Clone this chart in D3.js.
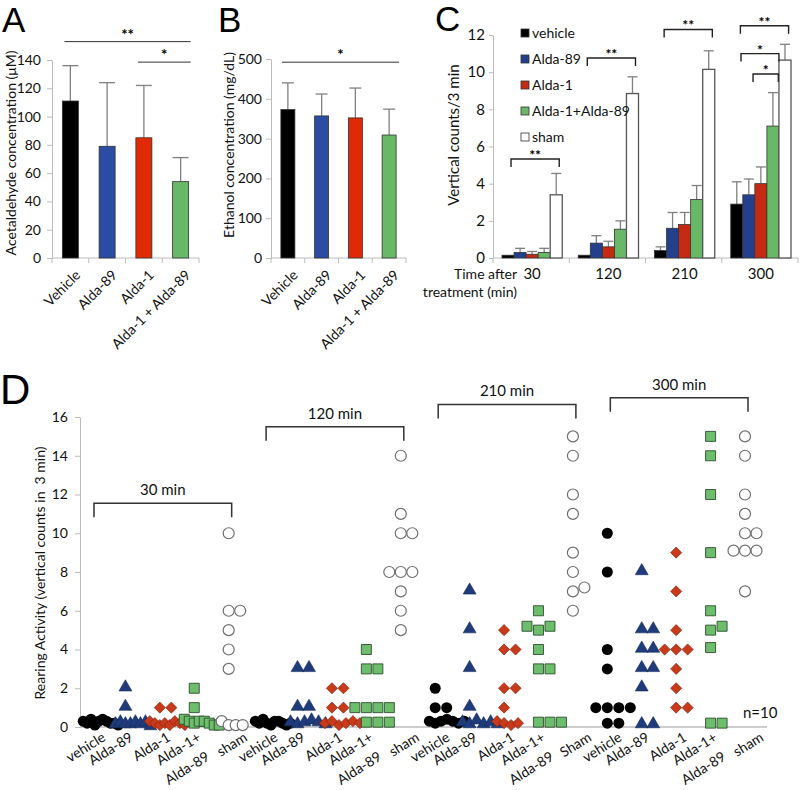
<!DOCTYPE html>
<html><head><meta charset="utf-8">
<script src="https://cdn.jsdelivr.net/npm/d3@7"></script>
<style>body{margin:0;background:#fff}</style>
</head><body>
<svg id="c" width="800" height="790"></svg>
<script>
// ---------------- DATA ----------------
const catsAB = ["Vehicle", "Alda-89", "Alda-1", "Alda-1 + Alda-89"];
const colorsAB = ["#000000", "#2a4ca2", "#e02a06", "#68b868"];
const acetMean = [111, 79, 85, 54];
const acetSD = [25, 45, 37, 17];
const ethMean = [373, 357, 352, 309];
const ethSD = [67, 55, 75, 65];
const sigA = [{a: 0, b: 3, level: 153, label: "**"}, {a: 2, b: 3, level: 138.5, label: "*"}];
const sigB = [{a: 0, b: 3, level: 492, label: "*"}];

const timesC = ["30", "120", "210", "300"];
const seriesC = ["vehicle", "Alda-89", "Alda-1", "Alda-1+Alda-89", "sham"];
const colorsC = ["#000000", "#22408c", "#c52b12", "#68b868", "#ffffff"];
const vertVehicle = [0.15, 0.15, 0.4, 2.9];
const vertAlda89 = [0.3, 0.8, 1.6, 3.4];
const vertAlda1 = [0.2, 0.6, 1.8, 4.0];
const vertCombo = [0.3, 1.55, 3.15, 7.1];
const vertSham = [3.4, 8.85, 10.15, 10.65];
const sdVehicle = [0, 0, 0.2, 1.2];
const sdAlda89 = [0.22, 0.4, 0.85, 0.85];
const sdAlda1 = [0.15, 0.3, 0.65, 0.9];
const sdCombo = [0.22, 0.45, 0.75, 1.8];
const sdSham = [1.15, 0.9, 1.0, 0.85];
// brackets: time index, from bar, to bar (bar index), level, label
const sigC = [
  {t: 0, a: 0.25, b: 4.25, level: 5.33, label: "**"},
  {t: 1, a: 0.25, b: 4.25, level: 10.76, label: "**"},
  {t: 2, a: 0.3, b: 4.3, level: 12.3, label: "**"},
  {t: 3, a: 0.3, b: 4.3, level: 12.5, label: "**"},
  {t: 3, a: 0.35, b: 3.5, level: 11.0, label: "*"},
  {t: 3, a: 1.35, b: 3.45, level: 9.9, label: "*"}
];

const groupsD = ["vehicle", "Alda-89", "Alda-1", "Alda-1+Alda-89", "sham"];
const labelsD = ["vehicle", "Alda-89", "Alda-1", "Alda-1+|Alda-89", "sham"];
const shamLabelD = ["sham", "sham", "Sham", "sham"];
const timesD = ["30 min", "120 min", "210 min", "300 min"];
const bracketLevelD = [11.55, 15.5, 16.65, 17.0];
// rearing counts per animal, rows = groupsD
const rear30 = [
  [0.3, 0.2, 0.4, 0.1, 0.3, 0.4, 0.3, 0.2, 0.2, 0.1],
  [2, 1, 0.1, 0.2, 0.1, 0.1, 0.2, 0.1, 0.2, 0],
  [1, 1, 0.3, 0.2, 0.1, 0.2, 0.1, 0.3, 0.2, 0.1],
  [2, 1, 0.4, 0.3, 0.2, 0.3, 0.3, 0.2, 0.1, 0.1],
  [10, 6, 6, 5, 4, 3, 0.3, 0.1, 0.1, 0.1]
];
const rear120 = [
  [0.3, 0.2, 0.4, 0.2, 0.1, 0.3, 0.3, 0.2, 0.1, 0.2],
  [3, 3, 1, 1, 0.2, 0.1, 0.2, 0.3, 0.2, 0.1],
  [2, 2, 1, 1, 0.2, 0.3, 0.1, 0.2, 0.3, 0.2],
  [4, 3, 3, 1, 1, 1, 1, 0.25, 0.25, 0.25],
  [14, 11, 10, 10, 8, 8, 8, 7, 6, 5]
];
const rear210 = [
  [2, 1, 1, 0.3, 0.2, 0.3, 0.4, 0.3, 0.2, 0.3],
  [7, 5, 3, 1, 0.2, 0.1, 0.3, 0.1, 0.2, 0.1],
  [5, 4, 4, 2, 2, 1, 0.3, 0.2, 0.1, 0.2],
  [5, 5.2, 5.2, 6, 4, 3, 3, 0.25, 0.25, 0.25],
  [15, 14, 12, 11, 9, 8, 7, 7.2, 6]
];
const rear300 = [
  [10, 8, 4, 3, 1, 1, 1, 1, 0.2, 0.2],
  [8, 5, 5, 4, 4, 3, 3, 2, 0.1, 0.1],
  [9, 7, 5, 4, 4, 4, 3, 2, 1, 1],
  [15, 14, 12, 9, 6, 5, 5.2, 4.1, 0.2, 0.2],
  [15, 14, 12, 11, 10, 10, 9.1, 9.1, 9.1, 7]
];
const rearAll = [rear30, rear120, rear210, rear300];

// ---------------- DRAWING ----------------
const svg = d3.select("#c");
const FONT = "Lato, 'Open Sans', sans-serif";
const TFONT = "'Liberation Sans', Arial, sans-serif";
const AXIS = "#bcbcbc";
const ERR = "#808080";

function title(t, x, y, size) {
  svg.append("text").attr("x", x).attr("y", y).text(t)
    .attr("font-family", TFONT).attr("font-size", size).attr("fill", "#000");
}
function yLabel(t, x, y, size) {
  svg.append("text").attr("transform", `translate(${x},${y}) rotate(-90)`)
    .attr("text-anchor", "middle").attr("font-family", FONT).attr("font-size", size)
    .attr("fill", "#111").text(t);
}
function styleAxis(g, size) {
  g.select(".domain").attr("stroke", AXIS);
  g.selectAll(".tick line").attr("stroke", AXIS);
  g.selectAll(".tick text").attr("font-family", FONT).attr("font-size", size).attr("fill", "#111");
}

function barPanel(o) {
  const g = svg.append("g");
  const x = d3.scaleBand().domain(o.cats).range([o.left, o.right]);
  const y = d3.scaleLinear().domain([0, o.max]).range([o.bottom, o.top]);
  const ya = d3.axisLeft(y).tickValues(d3.range(0, o.max + 1e-9, o.step))
    .tickSize(5).tickSizeOuter(0).tickPadding(o.pad);
  const yg = g.append("g").attr("transform", `translate(${o.left},0)`).call(ya);
  styleAxis(yg, 14);
  g.append("line").attr("x1", o.left).attr("x2", o.right).attr("y1", o.bottom).attr("y2", o.bottom)
    .attr("stroke", AXIS);
  const bounds = o.cats.map(c => x(c)).concat([o.right]);
  g.selectAll(".xt").data(bounds).join("line")
    .attr("x1", d => d).attr("x2", d => d).attr("y1", o.bottom).attr("y2", o.bottom + 5)
    .attr("stroke", AXIS);
  const cx = c => x(c) + x.bandwidth() / 2;
  // error bars
  o.cats.forEach((c, i) => {
    const top = y(o.means[i] + o.sds[i]);
    g.append("line").attr("x1", cx(c)).attr("x2", cx(c)).attr("y1", y(o.means[i])).attr("y2", top)
      .attr("stroke", ERR).attr("stroke-width", 1.3);
    g.append("line").attr("x1", cx(c) - o.cap).attr("x2", cx(c) + o.cap).attr("y1", top).attr("y2", top)
      .attr("stroke", ERR).attr("stroke-width", 1.3);
  });
  g.selectAll(".bar").data(o.cats).join("rect")
    .attr("x", c => cx(c) - o.bw / 2).attr("width", o.bw)
    .attr("y", (c, i) => y(o.means[i])).attr("height", (c, i) => o.bottom - y(o.means[i]))
    .attr("fill", (c, i) => o.colors[i]).attr("stroke", "#333").attr("stroke-width", 0.8);
  // x labels
  g.selectAll(".xl").data(o.cats).join("text")
    .attr("transform", c => `translate(${cx(c) + 4},${o.bottom + 11}) rotate(-45)`)
    .attr("text-anchor", "end").attr("dy", "0.7em")
    .attr("font-family", FONT).attr("font-size", 14).attr("fill", "#111").text(c => c);
  // significance
  o.sig.forEach(s => {
    const yy = y(s.level);
    g.append("line").attr("x1", cx(o.cats[s.a]) - 6).attr("x2", cx(o.cats[s.b]) + 10)
      .attr("y1", yy).attr("y2", yy).attr("stroke", "#333").attr("stroke-width", 1);
    g.append("text").attr("x", (cx(o.cats[s.a]) + cx(o.cats[s.b])) / 2 + 2).attr("y", yy - 2)
      .attr("text-anchor", "middle").attr("font-family", FONT).attr("font-size", 15)
      .attr("font-weight", "bold").text(s.label);
  });
}

// Panel A
title("A", 2, 32, 35);
barPanel({cats: catsAB, left: 52, right: 199, bottom: 258, top: 60, max: 140, step: 20, pad: 6,
  means: acetMean, sds: acetSD, colors: colorsAB, bw: 16, cap: 8, sig: sigA});
yLabel("Acetaldehyde concentration (\u03bcM)", 16, 153, 14);

// Panel B
title("B", 218, 32, 35);
barPanel({cats: catsAB, left: 271, right: 406, bottom: 258, top: 59, max: 500, step: 100, pad: 4,
  means: ethMean, sds: ethSD, colors: colorsAB, bw: 14, cap: 6, sig: sigB});
yLabel("Ethanol concentration (mg/dL)", 234, 145, 14);

// Panel C
title("C", 435, 31, 35);
(function () {
  const g = svg.append("g");
  const left = 493, right = 798, bottom = 258, top = 35;
  const means = [vertVehicle, vertAlda89, vertAlda1, vertCombo, vertSham];
  const sds = [sdVehicle, sdAlda89, sdAlda1, sdCombo, sdSham];
  const x0 = d3.scaleBand().domain(timesC).range([left, right]);
  const x1 = d3.scaleBand().domain(seriesC).range([9, x0.bandwidth() - 7]);
  const y = d3.scaleLinear().domain([0, 12]).range([bottom, top]);
  const yg = g.append("g").attr("transform", `translate(${left},0)`)
    .call(d3.axisLeft(y).tickValues(d3.range(0, 13, 2)).tickSize(4).tickSizeOuter(0).tickPadding(4));
  styleAxis(yg, 15);
  g.append("line").attr("x1", left).attr("x2", right).attr("y1", bottom).attr("y2", bottom).attr("stroke", AXIS);
  const bounds = timesC.map(t => x0(t)).concat([right]);
  g.selectAll(".xt").data(bounds).join("line")
    .attr("x1", d => d).attr("x2", d => d).attr("y1", bottom).attr("y2", bottom + 5).attr("stroke", AXIS);
  const bx = (t, s) => x0(t) + x1(s);
  const bw = x1.bandwidth();
  seriesC.forEach((s, si) => {
    timesC.forEach((t, ti) => {
      const m = means[si][ti], sd = sds[si][ti];
      const cx = bx(t, s) + bw / 2;
      if (sd > 0) {
        g.append("line").attr("x1", cx).attr("x2", cx).attr("y1", y(m)).attr("y2", y(m + sd))
          .attr("stroke", ERR).attr("stroke-width", 1.3);
        g.append("line").attr("x1", cx - 5).attr("x2", cx + 5).attr("y1", y(m + sd)).attr("y2", y(m + sd))
          .attr("stroke", ERR).attr("stroke-width", 1.3);
      }
      g.append("rect").attr("x", bx(t, s)).attr("width", bw).attr("y", y(m)).attr("height", bottom - y(m))
        .attr("fill", colorsC[si]).attr("stroke", si === 4 ? "#555" : "#333")
        .attr("stroke-width", si === 4 ? 1.3 : 0.8);
    });
  });
  // x category labels
  g.selectAll(".xl").data(timesC).join("text")
    .attr("x", t => x0(t) + 9 + (x0.bandwidth() - 16) / 2).attr("y", 279)
    .attr("text-anchor", "middle").attr("font-family", FONT).attr("font-size", 15).attr("fill", "#111")
    .text(t => t);
  g.append("text").attr("x", 517).attr("y", 279).attr("text-anchor", "end")
    .attr("font-family", FONT).attr("font-size", 14).attr("fill", "#111").text("Time after");
  g.append("text").attr("x", 517).attr("y", 297).attr("text-anchor", "end")
    .attr("font-family", FONT).attr("font-size", 14).attr("fill", "#111").text("treatment (min)");
  // significance brackets
  const pos = (t, b) => x0(timesC[t]) + x1.range()[0] + b * bw + bw / 2;
  sigC.forEach(s => {
    const xa = pos(s.t, s.a), xb = pos(s.t, s.b), yy = y(s.level);
    g.append("path").attr("d", `M${xa},${yy + 8}V${yy}H${xb}V${yy + 8}`)
      .attr("fill", "none").attr("stroke", "#222").attr("stroke-width", 1.4);
    g.append("text").attr("x", (xa + xb) / 2).attr("y", yy + 1).attr("text-anchor", "middle")
      .attr("font-family", FONT).attr("font-size", 14).attr("font-weight", "bold").text(s.label);
  });
  // legend
  const lg = g.append("g");
  seriesC.forEach((s, i) => {
    const yy = 33 + i * 26;
    lg.append("rect").attr("x", 521).attr("y", yy - 4).attr("width", 8).attr("height", 8)
      .attr("fill", colorsC[i]).attr("stroke", "#333").attr("stroke-width", 0.8);
    lg.append("text").attr("x", 532).attr("y", yy + 5).attr("font-family", FONT).attr("font-size", 14)
      .attr("fill", "#111").text(s);
  });
  yLabel("Vertical counts/3 min", 459, 135, 15);
})();

// Panel D
title("D", 0, 404, 42);
(function () {
  const g = svg.append("g");
  const left = 80, right = 767, bottom = 727, top = 417;
  const cols = d3.range(timesD.length * groupsD.length);
  const x = d3.scalePoint().domain(cols).range([91, 745]);
  const y = d3.scaleLinear().domain([0, 16]).range([bottom, top]);
  const yg = g.append("g").attr("transform", `translate(${left},0)`)
    .call(d3.axisLeft(y).tickValues(d3.range(0, 17, 2)).tickSize(5).tickSizeOuter(0).tickPadding(7));
  styleAxis(yg, 14);
  g.append("line").attr("x1", left).attr("x2", right).attr("y1", bottom).attr("y2", bottom)
    .attr("stroke", AXIS).attr("stroke-width", 1.5);

  function dodge(vals) {
    const grp = d3.group(vals.map(v => ({v})), d => Math.round(d.v));
    const out = [];
    const order = [0, 1, -1, 2, -2, 3, -3];
    for (const [k, arr] of grp) {
      const n = arr.length;
      arr.forEach((d, j) => {
        let off;
        if (k === 0) {
          const step = n <= 3 ? 11.5 : Math.min(7, 35 / (n - 1));
          off = (j - Math.floor(n / 4)) * step;
        } else off = order[j] * 11.5;
        out.push({v: d.v, off});
      });
    }
    return out;
  }
  const sym = {
    1: d3.symbol().type(d3.symbolTriangle).size(72),
    2: d3.symbol().type(d3.symbolSquare).size(62),
    3: d3.symbol().type(d3.symbolSquare).size(100)
  };
  const pts = [];
  rearAll.forEach((rows, ti) => rows.forEach((vals, gi) => {
    dodge(vals).forEach(p => pts.push({ti, gi, col: ti * groupsD.length + gi, v: p.v, off: p.off}));
  }));
  pts.forEach(p => {
    const px = x(p.col) + p.off, py = y(p.v);
    if (p.gi === 0) {
      g.append("circle").attr("cx", px).attr("cy", py).attr("r", 5.5).attr("fill", "#000");
    } else if (p.gi === 4) {
      g.append("circle").attr("cx", px).attr("cy", py).attr("r", 5.5).attr("fill", "#fff")
        .attr("stroke", "#6f6f6f").attr("stroke-width", 1.2);
    } else if (p.gi === 1) {
      g.append("path").attr("d", sym[1]()).attr("transform", `translate(${px},${py - 1})`)
        .attr("fill", "#1f3b7c").attr("stroke", "#152a58").attr("stroke-width", 0.6);
    } else if (p.gi === 2) {
      g.append("path").attr("d", sym[2]()).attr("transform", `translate(${px},${py}) rotate(45)`)
        .attr("fill", "#c93a1a").attr("stroke", "#7a200c").attr("stroke-width", 0.6);
    } else {
      g.append("path").attr("d", sym[3]()).attr("transform", `translate(${px},${py})`)
        .attr("fill", "#6cbd6c").attr("stroke", "#2f4f2f").attr("stroke-width", 0.9);
    }
  });
  // x labels (per-group horizontal nudge of the label end)
  const labelDx = [10, 3, 6, 2, 14];
  cols.forEach(c => {
    const ti = Math.floor(c / groupsD.length), gi = c % groupsD.length;
    const lab = gi === 4 ? shamLabelD[ti] : labelsD[gi];
    const parts = lab.split("|");
    const t = g.append("text").attr("transform", `translate(${x(c) + labelDx[gi]},${bottom + 4}) rotate(-32)`)
      .attr("text-anchor", "end").attr("font-family", FONT).attr("font-size", 14).attr("fill", "#111");
    parts.forEach((p, i) => t.append("tspan").attr("x", i ? -3 : 0).attr("dy", i ? "1.5em" : "0.75em").text(p));
  });
  // brackets
  timesD.forEach((tl, ti) => {
    const xa = x(ti * groupsD.length) + 3, xb = x(ti * groupsD.length + 4) + 3, yy = y(bracketLevelD[ti]);
    g.append("path").attr("d", `M${xa},${yy + 14}V${yy}H${xb}V${yy + 14}`)
      .attr("fill", "none").attr("stroke", "#333").attr("stroke-width", 1.5);
    g.append("text").attr("x", (xa + xb) / 2).attr("y", yy - 8).attr("text-anchor", "middle")
      .attr("font-family", FONT).attr("font-size", 15).attr("fill", "#111").text(tl);
  });
  g.append("text").attr("x", 743).attr("y", 718).attr("font-family", FONT).attr("font-size", 15)
    .attr("fill", "#111").text("n=10");
  yLabel("Rearing Activity (vertical counts in \u00a03 min)", 45, 573, 14);
})();
</script>
</body></html>
